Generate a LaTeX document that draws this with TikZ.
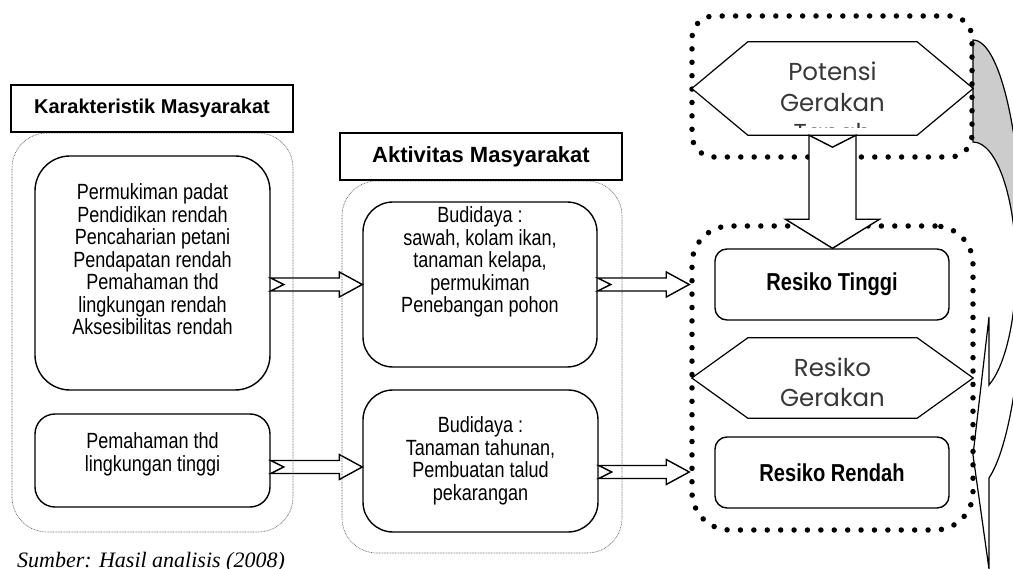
\documentclass[tikz,border=0pt]{standalone}
\usepackage{fontspec}
\setmainfont{Liberation Sans}
\newfontfamily\narrowfont{Liberation Sans}[FakeStretch=0.82]
\newfontfamily\geofont{Poppins}
\newfontfamily\serifit{Liberation Serif}
\usetikzlibrary{calc}
\tikzset{
  rbox/.style={draw, line width=1.4pt, fill=white, inner sep=0pt},
  titlebox/.style={draw, line width=1.4pt, fill=white, inner sep=0pt, font=\bfseries},
  txt/.style={inner sep=0pt, align=center, font=\narrowfont\fontsize{22}{22.5}\selectfont},
  btxt/.style={inner sep=0pt, align=center, font=\narrowfont\bfseries\fontsize{24.5}{28}\selectfont},
  hextxt/.style={inner sep=0pt, align=center, text=black!78, font=\geofont\fontsize{24.5}{30.5}\selectfont},
  hexline/.style={draw, line width=1.2pt, fill=white},
  arrowline/.style={draw, line width=1.4pt, fill=white, line join=miter},
  bigdots/.style={draw, line width=5.5pt, line cap=round, dash pattern=on 0pt off 13.4pt, inner sep=0pt},
  thindots/.style={draw=black!65, line width=0.6pt, dash pattern=on 0.8pt off 0.8pt, inner sep=0pt},
}
\newcommand\harrow[2]{\draw[arrowline] let \p1=(#1), \p2=(#2) in
  (\x1,\y1+6.5pt) -- (\x2-23pt,\y1+6.5pt) -- (\x2-23pt,\y1+12.5pt) -- (\x2,\y1)
  -- (\x2-23pt,\y1-12.5pt) -- (\x2-23pt,\y1-6.5pt) -- (\x1,\y1-6.5pt) -- (\x1+13pt,\y1) -- cycle;}
\newcommand\varrow[2]{\draw[arrowline] let \p1=(#1), \p2=(#2) in
  (\x1-23.5pt,\y1) -- (\x1-23.5pt,\y2+29pt) -- (\x1-47pt,\y2+29pt) -- (\x1,\y2)
  -- (\x1+47pt,\y2+29pt) -- (\x1+23.5pt,\y2+29pt) -- (\x1+23.5pt,\y1) -- (\x1,\y1-12pt) -- cycle;}
\begin{document}
\begin{tikzpicture}[x=1pt,y=-1pt]
\useasboundingbox (0,0) rectangle (1013,569);
% curved callout on the right
\filldraw[fill=gray!40, line width=1.2pt] (973,40) arc[start angle=-90,end angle=0,x radius=50,y radius=225]
  -- (1016,268) arc[start angle=0,end angle=-90,x radius=43,y radius=126] -- cycle;
\draw[line width=1.2pt, line join=miter] (1016,268) arc[start angle=0,end angle=68.2,x radius=43,y radius=126]
  -- (989,317) -- (973,455) -- (989,569) -- (989,478)
  arc[start angle=71.3,end angle=0,x radius=50,y radius=225];
% thick dotted frames
\node[bigdots, rounded corners=22pt, minimum width=280pt, minimum height=141pt] (pr) at (832,86.5) {};
\node[bigdots, rounded corners=38pt, minimum width=281pt, minimum height=304pt] (rr) at (832.5,378) {};
% Potensi hexagon
\node[inner sep=0pt, minimum width=281pt, minimum height=93pt] (pg) at (832.5,88.5) {};
\path[hexline] (pg.west) -- ([xshift=56pt]pg.north west) -- ([xshift=-56pt]pg.north east) -- (pg.east)
  -- ([xshift=-56pt]pg.south east) -- ([xshift=56pt]pg.south west) -- cycle;
\begin{scope}
  \clip (pg.north west) rectangle ([yshift=8pt]pg.south east);
  \node[hextxt] (pgt) at (832.5,102) {Potensi\\Gerakan\\Tanah};
\end{scope}
% Resiko hexagon
\node[inner sep=0pt, minimum width=281pt, minimum height=80pt] (rg) at (832.5,378) {};
\path[hexline] (rg.west) -- ([xshift=56pt]rg.north west) -- ([xshift=-56pt]rg.north east) -- (rg.east)
  -- ([xshift=-56pt]rg.south east) -- ([xshift=56pt]rg.south west) -- cycle;
\node[hextxt] (rgt) at (832.5,382.5) {Resiko\\Gerakan};
% Resiko boxes
\node[rbox, rounded corners=12pt, minimum width=234pt, minimum height=71pt, btxt] (rt) at (832,284.5) {Resiko Tinggi};
\node[rbox, rounded corners=12pt, minimum width=234pt, minimum height=71pt, btxt] (rd) at (832,472.5) {Resiko Rendah};
% left boxes
\node[rbox, rounded corners=35pt, minimum width=235pt, minimum height=234pt] (l1) at (152.5,273) {};
\node[txt] (l1t) at (152.5,259.5) {Permukiman padat\\Pendidikan rendah\\Pencaharian petani\\Pendapatan rendah\\Pemahaman thd\\lingkungan rendah\\Aksesibilitas rendah};
\node[rbox, rounded corners=20pt, minimum width=235pt, minimum height=93pt] (l2) at (152.5,460.5) {};
\node[txt] (l2t) at (152.5,454.5) {Pemahaman thd\\lingkungan tinggi};
% middle boxes
\node[rbox, rounded corners=30pt, minimum width=234pt, minimum height=165pt] (m1) at (480,284.5) {};
\node[txt] (m1t) at (480,262) {Budidaya :\\sawah, kolam ikan,\\tanaman kelapa,\\permukiman\\Penebangan pohon};
\node[rbox, rounded corners=30pt, minimum width=235pt, minimum height=142pt] (m2) at (480.5,461) {};
\node[txt] (m2t) at (480.5,461) {Budidaya :\\Tanaman tahunan,\\Pembuatan talud\\pekarangan};
% arrows
\coordinate (bB) at ([yshift=-6pt]m2.west);
\coordinate (dD) at ([yshift=-11pt]m2.east);
\harrow{l1.east |- m1.west}{m1.west}
\harrow{l2.east |- bB}{bB}
\harrow{m1.east}{rr.west |- m1.east}
\harrow{dD}{rr.west |- dD}
\varrow{pg.south}{rt.north}
% thin dotted group frames
\node[thindots, rounded corners=35pt, minimum width=281pt, minimum height=399pt] (lo) at (152.5,332.5) {};
\node[thindots, rounded corners=35pt, minimum width=280pt, minimum height=372pt] (mo) at (482,367) {};
% titles
\node[titlebox, minimum width=282pt, minimum height=47pt, font=\bfseries\fontsize{20}{24}\selectfont] (kt) at (152,108.5) {Karakteristik Masyarakat};
\node[titlebox, minimum width=282pt, minimum height=47pt, font=\bfseries\fontsize{22}{26}\selectfont] (at) at (481,156.5) {Aktivitas Masyarakat};
% source
\node[anchor=base west, inner sep=0pt, font=\serifit\itshape\fontsize{22}{26}\selectfont] (src) at (17,567) {Sumber: Hasil analisis (2008)};
\end{tikzpicture}
\end{document}
